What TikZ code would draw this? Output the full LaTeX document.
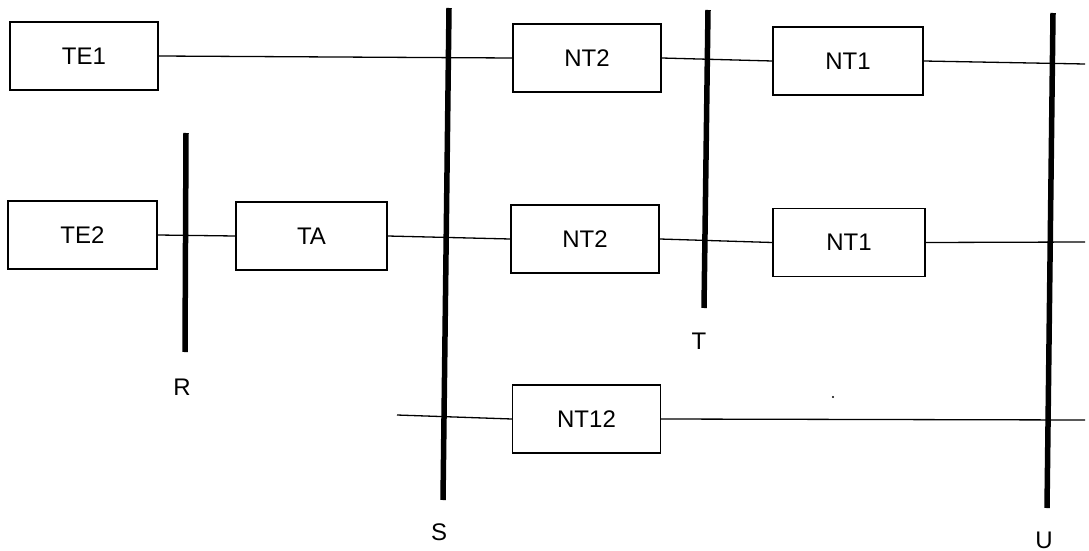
\documentclass[tikz,border=0pt]{standalone}
\usepackage{fontspec}
\setmainfont{Liberation Sans}
\begin{document}
\begin{tikzpicture}[x=1pt,y=-1pt,
  box/.style={draw, line width=1.4pt, minimum width=148pt, minimum height=68pt, inner sep=0pt, font=\fontsize{24}{26}\selectfont},
  wire/.style={line width=1.3pt},
  bar/.style={line width=5.5pt},
  lbl/.style={font=\fontsize{24}{26}\selectfont, inner sep=0pt}]
\useasboundingbox (0,0) rectangle (1089,551);
% boxes
\node[box] (te1) at (84,56) {TE1};
\node[box] (nt2a) at (587,58) {NT2};
\node[box, minimum width=150pt] (nt1a) at (848,61) {NT1};
\node[box, minimum width=149pt] (te2) at (82.5,235) {TE2};
\node[box, minimum width=151pt] (ta) at (311.5,236) {TA};
\node[box] (nt2b) at (585,239) {NT2};
\node[box, minimum width=152pt] (nt1b) at (849,242.5) {NT1};
\node[box] (nt12) at (586.5,419) {NT12};
% free ends
\coordinate (e1) at (1085,64);
\coordinate (e2) at (1085,242);
\coordinate (e3) at (1085,420);
\coordinate (w3) at (397,415);
% wires
\draw[wire] (te1.east) -- (nt2a.west);
\draw[wire] (nt2a.east) -- (nt1a.west);
\draw[wire] (nt1a.east) -- (e1);
\draw[wire] (te2.east) -- (ta.west);
\draw[wire] (ta.east) -- (nt2b.west);
\draw[wire] (nt2b.east) -- (nt1b.west);
\draw[wire] (nt1b.east) -- (e2);
\draw[wire] (w3) -- (nt12.west);
\draw[wire] (nt12.east) -- (e3);
% reference-point bars
\coordinate (rt) at (186,133); \coordinate (rb) at (185,352);
\coordinate (st) at (449,8);   \coordinate (sb) at (443,500);
\coordinate (tt) at (708,10);  \coordinate (tb) at (704,308);
\coordinate (ut) at (1053,13); \coordinate (ub) at (1047,508);
\draw[bar] (rt) -- (rb);
\draw[bar] (st) -- (sb);
\draw[bar] (tt) -- (tb);
\draw[bar] (ut) -- (ub);
% labels
\node[lbl] (lr) at (182,387) {R};
\node[lbl] (ls) at (439,532) {S};
\node[lbl] (lt) at (699,341) {T};
\node[lbl] (lu) at (1044,540) {U};
% stray dot
\fill (833,397) circle (1.2pt);
\end{tikzpicture}
\end{document}
